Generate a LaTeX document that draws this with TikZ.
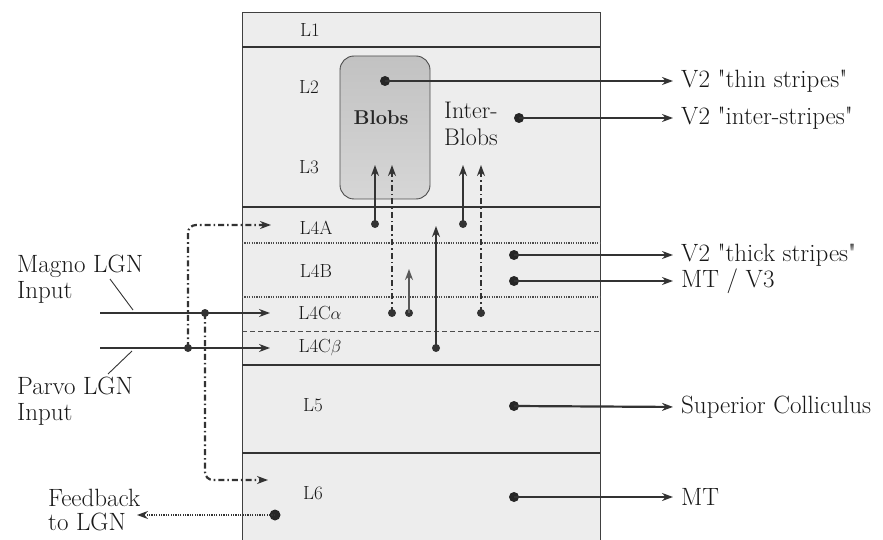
\documentclass[tikz,border=0pt]{standalone}
\usepackage{fontspec}
\setmainfont{Latin Modern Roman}[Ligatures=TeXOff]
\usetikzlibrary{arrows.meta}
\begin{document}
\begin{tikzpicture}[x=1pt,y=-1pt,
  ink/.style={draw=black!80},
  conn/.style={ink,line width=2.2pt,-{Stealth[length=11pt,width=8pt]}},
  dashdot/.style={ink,line width=2.2pt,dash pattern=on 6pt off 3pt on 1.6pt off 3pt,-{Stealth[length=11pt,width=8pt]}},
  feed/.style={ink,line width=2.2pt,dash pattern=on 1.2pt off 1.2pt,-{Stealth[length=11pt,width=8pt]}},
  layerline/.style={draw=black!80,line width=2.4pt},
  dotline/.style={draw=black!70,line width=2.4pt,dash pattern=on 1.2pt off 1.2pt},
  thinline/.style={draw=black!70,line width=0.8pt,dash pattern=on 5pt off 3pt},
  lay/.style={inner sep=0pt,font=\fontsize{19}{21}\selectfont,text=black!90},
  rlab/.style={anchor=west,inner sep=0pt,font=\fontsize{25}{28}\selectfont,text=black!90},
  llab/.style={anchor=west,inner sep=0pt,align=left,font=\fontsize{25}{26}\selectfont,text=black!90},
  dotn/.style={circle,fill=black!85,inner sep=0pt,minimum size=10pt},
  sdot/.style={circle,fill=black!80,inner sep=0pt,minimum size=8pt}]
\useasboundingbox (0,0) rectangle (883,540);
% cortex box
\fill[black!7] (242,12) rectangle (600,540);
\draw[black!75,line width=0.9pt] (242,540) -- (242,12) -- (600,12) -- (600,540);
% layer boundaries
\draw[layerline] (242,47) -- (600,47);
\draw[layerline] (242,207) -- (600,207);
\draw[dotline] (242,243) -- (600,243);
\draw[dotline] (242,297) -- (600,297);
\draw[thinline] (242,331) -- (600,331);
\draw[layerline] (242,365) -- (600,365);
\draw[layerline] (242,453) -- (600,453);
% blob
\node[draw=black!70,line width=0.9pt,rounded corners=14pt,top color=black!24,bottom color=black!16,
      minimum width=90pt,minimum height=143pt,inner sep=0pt] (blob) at (385,127.5) {};
\node[inner sep=0pt,font=\fontsize{20}{22}\selectfont\bfseries,text=black!85] (blobtxt) at (381,118) {Blobs};
\node[inner sep=0pt,align=left,font=\fontsize{24}{27}\selectfont,text=black!90] (inter) at (471,124) {Inter-\\Blobs};
% layer labels
\node[lay] (L1) at (310,30) {L1};
\node[lay] (L2) at (309,87) {L2};
\node[lay] (L3) at (309,167) {L3};
\node[lay] (L4A) at (316,228) {L4A};
\node[lay] (L4B) at (316,271) {L4B};
\node[lay] (L4Ca) at (320,313) {L4C$\alpha$};
\node[lay] (L4Cb) at (320,348) {L4C$\beta$};
\node[lay] (L5) at (313,405) {L5};
\node[lay] (L6) at (313,493) {L6};
% right labels
\node[rlab] (thin) at (681,81) {V2 "thin stripes"};
\node[rlab] (interstr) at (681,118) {V2 "inter-stripes"};
\node[rlab] (thick) at (681,255) {V2 "thick stripes"};
\node[rlab] (mtv3) at (681,281) {MT / V3};
\node[rlab] (sc) at (681,407) {Superior Colliculus};
\node[rlab] (mt) at (681,497) {MT};
% left labels
\node[llab] (magno) at (17,279) {Magno LGN\\Input};
\node[llab] (parvo) at (17,401) {Parvo LGN\\Input};
\node[llab,font=\fontsize{25}{24}\selectfont] (fb) at (48,510) {Feedback\\to LGN};
% output dots
\node[dotn] (o1) at (385,81) {};
\node[dotn] (o2) at (519,118) {};
\node[dotn] (o3) at (514,255) {};
\node[dotn] (o4) at (514,281) {};
\node[dotn] (o5) at (514,406) {};
\node[dotn] (o6) at (514,497) {};
\foreach \a/\b in {o1/thin,o2/interstr,o3/thick,o4/mtv3,o5/sc,o6/mt}
  \draw[conn,shorten >=8pt] (\a.center) -- (\b.west);
% internal vertical connections
\node[sdot] (s1) at (375,224) {};
\coordinate (t1) at (375,165);
\node[sdot] (s2) at (463,224) {};
\coordinate (t2) at (463,165);
\node[sdot] (s3) at (392,313) {};
\coordinate (t3) at (392,165);
\node[sdot] (s4) at (481,313) {};
\coordinate (t4) at (481,165);
\node[sdot] (s5) at (409,313) {};
\coordinate (t5) at (409,269);
\node[sdot] (s6) at (436,348) {};
\coordinate (t6) at (436,226);
\draw[conn,line width=1.8pt] (s1.center) -- (t1);
\draw[conn,line width=1.8pt] (s2.center) -- (t2);
\draw[dashdot,line width=1.8pt] (s3.center) -- (t3);
\draw[dashdot,line width=1.8pt] (s4.center) -- (t4);
\draw[conn,line width=1.8pt,draw=black!65] (s5.center) -- (t5);
\draw[conn,line width=1.8pt] (s6.center) -- (t6);
% LGN inputs
\coordinate (mstart) at (100,313);
\coordinate (mend) at (270,313);
\coordinate (pstart) at (100,348);
\coordinate (pend) at (270,348);
\draw[conn] (mstart) -- (mend);
\draw[conn] (pstart) -- (pend);
\draw[black!80,line width=0.9pt] (110,279) -- (133,310);
\draw[black!80,line width=0.9pt] (108,374) -- (132,351);
\node[sdot] (j1) at (188,348) {};
\node[sdot] (j2) at (205,313) {};
\coordinate (a4a) at (271,225);
\coordinate (a6) at (268,480);
\draw[dashdot,rounded corners=8pt] (j1.center) -- (188,225) -- (a4a);
\draw[dashdot,rounded corners=8pt] (j2.center) -- (205,480) -- (a6);
% feedback
\node[dotn,minimum size=11pt] (fdot) at (275,515) {};
\coordinate (ftip) at (137,515);
\draw[feed] (fdot.center) -- (ftip);
\end{tikzpicture}
\end{document}
